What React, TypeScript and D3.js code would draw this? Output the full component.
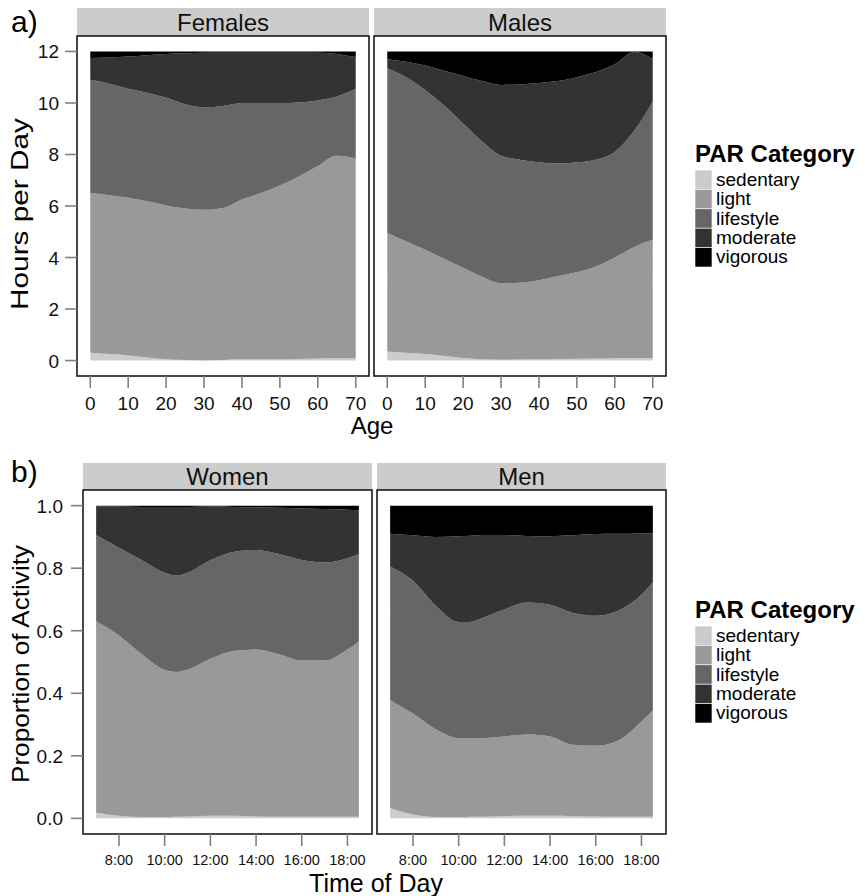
import React from "react";
import * as d3 from "d3";

const CATEGORIES = ["sedentary", "light", "lifestyle", "moderate", "vigorous"];
const FILLS = ["#cccccc", "#999999", "#666666", "#333333", "#000000"];

// Panel a: hours per day by age
const AGES = [0, 5, 10, 15, 20, 25, 30, 35, 40, 45, 50, 55, 60, 65, 70];
const FEMALES_SEDENTARY = [0.30, 0.25, 0.20, 0.12, 0.05, 0.02, 0.00, 0.02, 0.05, 0.05, 0.05, 0.06, 0.08, 0.09, 0.10];
const FEMALES_LIGHT = [6.20, 6.17, 6.12, 6.06, 5.97, 5.88, 5.85, 5.90, 6.20, 6.45, 6.75, 7.09, 7.47, 7.86, 7.75];
const FEMALES_LIFESTYLE = [4.40, 4.33, 4.23, 4.22, 4.18, 4.05, 3.98, 3.96, 3.75, 3.50, 3.20, 2.87, 2.55, 2.30, 2.70];
const FEMALES_MODERATE = [0.85, 1.02, 1.25, 1.45, 1.70, 1.98, 2.12, 2.07, 1.95, 1.95, 1.95, 1.93, 1.85, 1.65, 1.23];
const FEMALES_VIGOROUS = [0.25, 0.23, 0.20, 0.15, 0.10, 0.07, 0.05, 0.05, 0.05, 0.05, 0.05, 0.05, 0.05, 0.10, 0.22];

const MALES_SEDENTARY = [0.35, 0.30, 0.25, 0.18, 0.10, 0.05, 0.03, 0.04, 0.05, 0.06, 0.07, 0.08, 0.09, 0.10, 0.10];
const MALES_LIGHT = [4.60, 4.32, 4.05, 3.77, 3.50, 3.20, 2.97, 2.98, 3.07, 3.22, 3.36, 3.57, 3.91, 4.30, 4.60];
const MALES_LIFESTYLE = [6.40, 6.38, 6.20, 5.95, 5.60, 5.25, 4.95, 4.78, 4.58, 4.37, 4.27, 4.15, 4.10, 4.50, 5.35];
const MALES_MODERATE = [0.35, 0.60, 0.95, 1.35, 1.85, 2.35, 2.75, 2.92, 3.08, 3.20, 3.30, 3.40, 3.40, 3.08, 1.67];
const MALES_VIGOROUS = [0.30, 0.40, 0.55, 0.75, 0.95, 1.15, 1.30, 1.28, 1.22, 1.15, 1.00, 0.80, 0.50, 0.02, 0.28];

const AGE_TICKS = [0, 10, 20, 30, 40, 50, 60, 70];
const HOURS_TICKS = [0, 2, 4, 6, 8, 10, 12];

// Panel b: proportion of activity by time of day
const HOURS = [7, 8, 9, 10, 10.5, 11, 12, 13, 14, 15, 16, 17, 18, 18.5];
const WOMEN_SEDENTARY = [0.018, 0.008, 0.004, 0.004, 0.005, 0.006, 0.008, 0.008, 0.006, 0.005, 0.005, 0.005, 0.005, 0.005];
const WOMEN_LIGHT = [0.612, 0.577, 0.521, 0.471, 0.463, 0.469, 0.502, 0.527, 0.534, 0.520, 0.500, 0.500, 0.535, 0.560];
const WOMEN_LIFESTYLE = [0.275, 0.280, 0.300, 0.310, 0.308, 0.310, 0.315, 0.317, 0.318, 0.320, 0.321, 0.313, 0.292, 0.280];
const WOMEN_MODERATE = [0.093, 0.132, 0.171, 0.211, 0.220, 0.211, 0.172, 0.144, 0.137, 0.148, 0.165, 0.171, 0.155, 0.140];
const WOMEN_VIGOROUS = [0.002, 0.003, 0.004, 0.004, 0.004, 0.004, 0.003, 0.004, 0.005, 0.007, 0.009, 0.011, 0.013, 0.015];

const MEN_SEDENTARY = [0.032, 0.012, 0.004, 0.004, 0.005, 0.005, 0.007, 0.008, 0.008, 0.007, 0.006, 0.005, 0.005, 0.005];
const MEN_LIGHT = [0.346, 0.323, 0.281, 0.252, 0.250, 0.251, 0.255, 0.260, 0.254, 0.228, 0.226, 0.245, 0.305, 0.341];
const MEN_LIFESTYLE = [0.427, 0.425, 0.395, 0.372, 0.373, 0.384, 0.406, 0.422, 0.421, 0.422, 0.416, 0.415, 0.405, 0.409];
const MEN_MODERATE = [0.105, 0.145, 0.220, 0.274, 0.276, 0.266, 0.238, 0.213, 0.219, 0.248, 0.261, 0.245, 0.196, 0.157];
const MEN_VIGOROUS = [0.090, 0.095, 0.100, 0.098, 0.096, 0.094, 0.094, 0.097, 0.098, 0.095, 0.091, 0.090, 0.089, 0.088];

const TIME_TICKS = [8, 10, 12, 14, 16, 18];
const PROP_TICKS = [0, 0.2, 0.4, 0.6, 0.8, 1.0];

const FONT = "'Liberation Sans', Arial, Helvetica, sans-serif";
const TICK_COLOR = "#808080";

type Row = { x: number; [k: string]: number };

function buildRows(xs: number[], series: number[][]): Row[] {
  return xs.map((x, i) => {
    const r: Row = { x };
    CATEGORIES.forEach((c, j) => (r[c] = series[j][i]));
    return r;
  });
}

const stacker = d3.stack<Row>().keys(CATEGORIES);

type FacetProps = {
  title: string;
  rows: Row[];
  x: d3.ScaleLinear<number, number>;
  y: d3.ScaleLinear<number, number>;
  xTicks: number[];
  xFmt: (v: number) => string;
  xFont: number;
  xLabelDy: number;
  stripTop: number;
  showY: boolean;
  yTicks: number[];
  yFmt: (v: number) => string;
  yLabelGap: number;
};

function Facet(p: FacetProps) {
  const [x0, x1] = p.x.range();
  const [yb, yt] = p.y.range();
  const layers = stacker(p.rows);
  const area = d3
    .area<d3.SeriesPoint<Row>>()
    .x((d) => p.x(d.data.x))
    .y0((d) => p.y(d[0]))
    .y1((d) => p.y(d[1]))
    .curve(d3.curveMonotoneX);
  return (
    <g>
      <rect x={x0} y={p.stripTop} width={x1 - x0} height={yt - p.stripTop} fill="#cccccc" />
      <text
        x={(x0 + x1) / 2}
        y={(p.stripTop + yt) / 2 + 8.5}
        textAnchor="middle"
        fontSize={24}
        fontFamily={FONT}
        fill="#111"
      >
        {p.title}
      </text>
      <rect x={x0} y={yt} width={x1 - x0} height={yb - yt} fill="#ffffff" />
      {layers.map((l, i) => (
        <path key={CATEGORIES[i]} d={area(l) || ""} fill={FILLS[i]} />
      ))}
      <rect x={x0} y={yt} width={x1 - x0} height={yb - yt} fill="none" stroke="#1a1a1a" strokeWidth={1.6} />
      {p.xTicks.map((t) => (
        <g key={t}>
          <line x1={p.x(t)} x2={p.x(t)} y1={yb} y2={yb + 12} stroke={TICK_COLOR} strokeWidth={1.6} />
          <text
            x={p.x(t)}
            y={yb + p.xLabelDy}
            textAnchor="middle"
            fontSize={p.xFont}
            fontFamily={FONT}
            fill="#111"
          >
            {p.xFmt(t)}
          </text>
        </g>
      ))}
      {p.showY &&
        p.yTicks.map((t) => (
          <g key={t}>
            <line x1={x0 - 12} x2={x0} y1={p.y(t)} y2={p.y(t)} stroke={TICK_COLOR} strokeWidth={1.6} />
            <text
              x={x0 - p.yLabelGap}
              y={p.y(t) + 7}
              textAnchor="end"
              fontSize={19}
              fontFamily={FONT}
              fill="#111"
            >
              {p.yFmt(t)}
            </text>
          </g>
        ))}
    </g>
  );
}

function Legend({ top }: { top: number }) {
  const kx = 695;
  const kh = 19.4;
  return (
    <g>
      <text x={kx} y={top - 8} fontSize={24} fontWeight="bold" fontFamily={FONT} fill="#000">
        PAR Category
      </text>
      {CATEGORIES.map((c, i) => (
        <g key={c}>
          <rect x={kx} y={top + i * kh} width={17} height={kh} fill={FILLS[i]} stroke="#ffffff" strokeWidth={0.6} />
          <text x={kx + 21} y={top + i * kh + kh / 2 + 6} fontSize={19} fontFamily={FONT} fill="#000">
            {c}
          </text>
        </g>
      ))}
    </g>
  );
}

export default function App() {
  const femalesRows = buildRows(AGES, [FEMALES_SEDENTARY, FEMALES_LIGHT, FEMALES_LIFESTYLE, FEMALES_MODERATE, FEMALES_VIGOROUS]);
  const malesRows = buildRows(AGES, [MALES_SEDENTARY, MALES_LIGHT, MALES_LIFESTYLE, MALES_MODERATE, MALES_VIGOROUS]);
  const womenRows = buildRows(HOURS, [WOMEN_SEDENTARY, WOMEN_LIGHT, WOMEN_LIFESTYLE, WOMEN_MODERATE, WOMEN_VIGOROUS]);
  const menRows = buildRows(HOURS, [MEN_SEDENTARY, MEN_LIGHT, MEN_LIFESTYLE, MEN_MODERATE, MEN_VIGOROUS]);

  const ageDom: [number, number] = [-3.5, 73.5];
  const xF = d3.scaleLinear().domain(ageDom).range([77, 369]);
  const xM = d3.scaleLinear().domain(ageDom).range([374, 666]);
  const yA = d3.scaleLinear().domain([-0.6, 12.6]).range([376, 36]);

  const hDom: [number, number] = [7 - 0.575, 18.5 + 0.575];
  const xW = d3.scaleLinear().domain(hDom).range([83, 372]);
  const xMen = d3.scaleLinear().domain(hDom).range([377, 666]);
  const yB = d3.scaleLinear().domain([-0.05, 1.05]).range([834, 490]);

  const ageFmt = (v: number) => String(v);
  const hourFmt = (v: number) => `${v}:00`;
  const intFmt = (v: number) => String(v);
  const propFmt = d3.format(".1f");

  return (
    <svg width={865} height={896} style={{ display: "block", position: "absolute", left: 0, top: 0 }}>
      <rect width={865} height={896} fill="#ffffff" />
      <text x={11} y={32} fontSize={30} fontFamily={FONT} fill="#000">a)</text>
      <Facet title="Females" rows={femalesRows} x={xF} y={yA} xTicks={AGE_TICKS} xFmt={ageFmt} xFont={19} xLabelDy={34}
        stripTop={8} showY={true} yTicks={HOURS_TICKS} yFmt={intFmt} yLabelGap={18} />
      <Facet title="Males" rows={malesRows} x={xM} y={yA} xTicks={AGE_TICKS} xFmt={ageFmt} xFont={19} xLabelDy={34}
        stripTop={8} showY={false} yTicks={HOURS_TICKS} yFmt={intFmt} yLabelGap={18} />
      <text x={372} y={434} textAnchor="middle" fontSize={24} fontFamily={FONT} fill="#000">Age</text>
      <text transform="translate(28,214) rotate(-90)" textAnchor="middle" fontSize={24} fontFamily={FONT} fill="#000"
        textLength={192} lengthAdjust="spacingAndGlyphs">Hours per Day</text>
      <Legend top={170} />

      <text x={11} y={482} fontSize={30} fontFamily={FONT} fill="#000">b)</text>
      <Facet title="Women" rows={womenRows} x={xW} y={yB} xTicks={TIME_TICKS} xFmt={hourFmt} xFont={14.5} xLabelDy={31}
        stripTop={463} showY={true} yTicks={PROP_TICKS} yFmt={propFmt} yLabelGap={20} />
      <Facet title="Men" rows={menRows} x={xMen} y={yB} xTicks={TIME_TICKS} xFmt={hourFmt} xFont={14.5} xLabelDy={31}
        stripTop={463} showY={false} yTicks={PROP_TICKS} yFmt={propFmt} yLabelGap={20} />
      <text x={376} y={892} textAnchor="middle" fontSize={25} fontFamily={FONT} fill="#000">Time of Day</text>
      <text transform="translate(29,664) rotate(-90)" textAnchor="middle" fontSize={24} fontFamily={FONT} fill="#000"
        textLength={238} lengthAdjust="spacingAndGlyphs">Proportion of Activity</text>
      <Legend top={626} />
    </svg>
  );
}
